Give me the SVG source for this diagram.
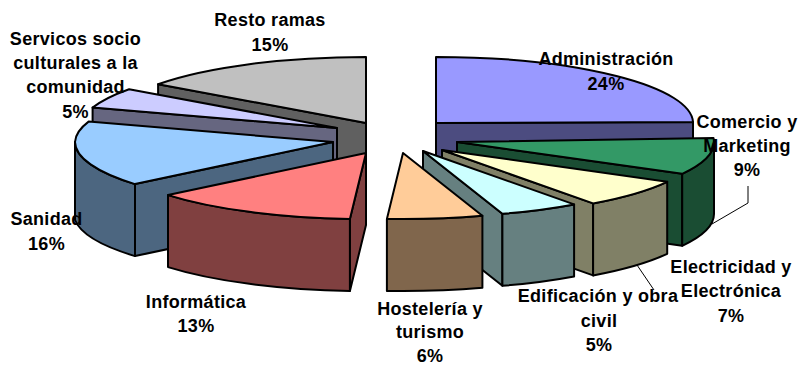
<svg xmlns="http://www.w3.org/2000/svg" width="801" height="365" viewBox="0 0 801 365">
<style>
.f{stroke:#000;stroke-width:2;stroke-linejoin:round}
.t{font-family:"Liberation Sans",Arial,sans-serif;font-weight:bold;font-size:18px;letter-spacing:0.3px;text-anchor:middle;fill:#000}
.ld{fill:none;stroke:#000;stroke-width:1}
</style>
<rect width="801" height="365" fill="#fff"/>
<g id="resto">
<path class="f" fill="#606060" d="M366,123 L158.1,84.2 L158.1,156.2 L366,195 Z"/>
<path class="f" fill="#C0C0C0" d="M366,123 L158.1,84.2 A257,66 0 0 1 366,57 Z"/>
<text class="t" x="270" y="26">Resto ramas</text>
<text class="t" x="270" y="51">15%</text>
</g>
<g id="administracion">
<path class="f" fill="#4C4C80" d="M436,123 L693,122 L693,194 L436,195 Z"/>
<path class="f" fill="#9999FF" d="M436,123 L436,57 A257,66 0 0 1 693,122 Z"/>
<text class="t" x="606" y="65">Administración</text>
<text class="t" x="606" y="90">24%</text>
</g>
<g id="servicios">
<path class="f" fill="#666680" d="M337,128 L92.6,107.6 L92.6,179.6 L337,200 Z"/>
<path class="f" fill="#CCCCFF" d="M337,128 L92.6,107.6 A257,66 0 0 1 129.1,89.2 Z"/>
<text class="t" x="75.5" y="44.5">Servicos socio</text>
<text class="t" x="75.5" y="68.5">culturales a la</text>
<text class="t" x="75.5" y="93">comunidad</text>
<text class="t" x="75.5" y="117.5">5%</text>
</g>
<g id="comercio">
<path class="f" fill="#1A4D33" d="M457,142 L682.2,173.8 L682.2,245.8 L457,214 Z"/>
<path class="f" fill="#1A4D33" d="M714,142 A257,66 0 0 1 682.2,173.8 L682.2,245.8 A257,66 0 0 0 714,214 Z"/>
<path class="f" fill="#339966" d="M457,142 L713.5,137.9 A257,66 0 0 1 682.2,173.8 Z"/>
<text class="t" x="747" y="128">Comercio y</text>
<text class="t" x="747" y="152">Marketing</text>
<text class="t" x="747" y="176">9%</text>
</g>
<g id="sanidad">
<path class="f" fill="#4C6680" d="M333,142 L135,184.1 L135,256.1 L333,214 Z"/>
<path class="f" fill="#4C6680" d="M75,142 A258,66 0 0 0 135,184.1 L135,256.1 A258,66 0 0 1 75,220 Z"/>
<path class="f" fill="#99CCFF" d="M333,142 L135,184.1 A258,66 0 0 1 75,142 A258,66 0 0 1 88.6,121.6 Z"/>
<text class="t" x="46.5" y="225">Sanidad</text>
<text class="t" x="46.5" y="250">16%</text>
</g>
<g id="electricidad">
<path class="f" fill="#808066" d="M442,150 L593.1,203.4 L593.1,275.4 L442,222 Z"/>
<path class="f" fill="#808066" d="M667.2,181.8 A257,66 0 0 1 593.1,203.4 L593.1,275.4 A257,66 0 0 0 667.2,253.8 Z"/>
<path class="f" fill="#FFFFCC" d="M442,150 L667.2,181.8 A257,66 0 0 1 593.1,203.4 Z"/>
<text class="t" x="731" y="273">Electricidad y</text>
<text class="t" x="731" y="297">Electrónica</text>
<text class="t" x="731" y="322">7%</text>
</g>
<g id="edificacion">
<path class="f" fill="#668080" d="M423,151 L502.4,213.8 L502.4,285.8 L423,223 Z"/>
<path class="f" fill="#668080" d="M574.1,204.4 A257,66 0 0 1 502.4,213.8 L502.4,285.8 A257,66 0 0 0 574.1,276.4 Z"/>
<path class="f" fill="#CCFFFF" d="M423,151 L574.1,204.4 A257,66 0 0 1 502.4,213.8 Z"/>
<text class="t" x="598" y="302">Edificación y obra</text>
<text class="t" x="599" y="327">civil</text>
<text class="t" x="599" y="351">5%</text>
</g>
<g id="informatica">
<path class="f" fill="#804040" d="M366,153 L349.9,218.9 L349.9,290.9 L366,225 Z"/>
<path class="f" fill="#804040" d="M349.9,218.9 A257,66 0 0 1 168,195.1 L168,267.1 A257,66 0 0 0 349.9,290.9 Z"/>
<path class="f" fill="#FF8080" d="M366,153 L349.9,218.9 A257,66 0 0 1 168,195.1 Z"/>
<text class="t" x="196" y="308">Informática</text>
<text class="t" x="196" y="332">13%</text>
</g>
<g id="hosteleria">
<path class="f" fill="#80664C" d="M482.4,215.8 A257,66 0 0 1 386.9,218.9 L386.9,290.9 A257,66 0 0 0 482.4,287.8 Z"/>
<path class="f" fill="#FFCC99" d="M403,153 L482.4,215.8 A257,66 0 0 1 386.9,218.9 Z"/>
<text class="t" x="430" y="315">Hostelería y</text>
<text class="t" x="430" y="338">turismo</text>
<text class="t" x="430" y="362">6%</text>
</g>
<g id="connectors">
<path class="ld" d="M748,186 L748,203 L712,224"/>
<path class="ld" d="M637,265 L654,290"/>
</g>
</svg>
